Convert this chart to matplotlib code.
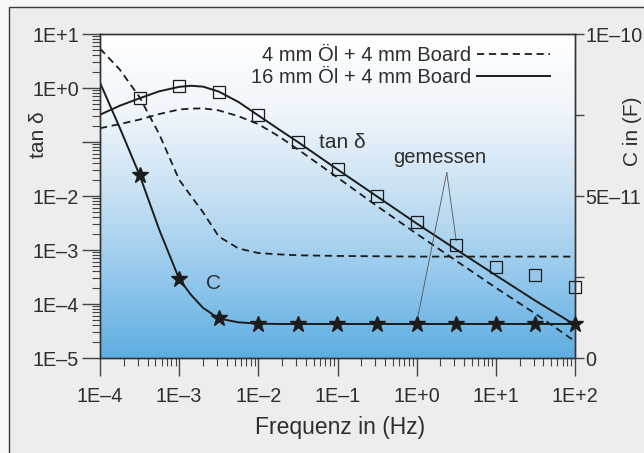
import numpy as np
import matplotlib
matplotlib.use('Agg')
import matplotlib.pyplot as plt
from matplotlib.patches import Rectangle
from matplotlib.colors import LinearSegmentedColormap
from matplotlib.ticker import FixedLocator, FixedFormatter, LogLocator, NullFormatter

plt.rcParams['font.family'] = ['Liberation Sans', 'DejaVu Sans']

# ---------------- data ----------------
# measured points (every half decade)
meas_f = [3.16e-4, 1e-3, 3.16e-3, 1e-2, 3.16e-2, 1e-1, 3.16e-1, 1, 3.16, 10, 31.6, 100]
meas_tan = [0.64, 1.09, 0.85, 0.31, 0.10, 0.031, 0.0098, 3.3e-3, 1.23e-3, 4.9e-4, 3.5e-4, 2.1e-4]
meas_C = [5.65e-11, 2.44e-11, 1.22e-11, 1.05e-11, 1.05e-11, 1.05e-11, 1.05e-11,
          1.05e-11, 1.05e-11, 1.05e-11, 1.05e-11, 1.05e-11]

# calculated curves
curve_f = [1e-4, 1.78e-4, 3.16e-4, 5.62e-4, 1e-3, 1.41e-3, 2.0e-3, 3.16e-3, 5.62e-3,
           1e-2, 1.78e-2, 3.16e-2, 1e-1, 3.16e-1, 1, 3.16, 10, 31.6, 100]
tan_16 = [0.32, 0.47, 0.645, 0.87, 1.05, 1.10, 1.06, 0.86, 0.55,
          0.31, 0.175, 0.10, 0.031, 0.0098, 3.1e-3, 1.02e-3, 3.4e-4, 1.15e-4, 4.1e-5]
tan_4 = [0.18, 0.215, 0.26, 0.33, 0.40, 0.415, 0.42, 0.385, 0.30,
         0.214, 0.13, 0.073, 0.022, 6.5e-3, 2.0e-3, 6.3e-4, 2.0e-4, 6.6e-5, 2.04e-5]
C_16 = [8.5e-11, 7.1e-11, 5.65e-11, 3.95e-11, 2.44e-11, 1.95e-11, 1.55e-11, 1.22e-11, 1.10e-11,
        1.06e-11, 1.05e-11, 1.05e-11, 1.05e-11, 1.05e-11, 1.05e-11, 1.05e-11, 1.05e-11, 1.05e-11, 1.05e-11]
C_4 = [9.55e-11, 8.9e-11, 8.05e-11, 6.9e-11, 5.5e-11, 5.0e-11, 4.5e-11, 3.75e-11, 3.38e-11,
       3.24e-11, 3.2e-11, 3.17e-11, 3.15e-11, 3.14e-11, 3.13e-11, 3.13e-11, 3.13e-11, 3.13e-11, 3.13e-11]

legend_labels = ['4 mm Öl + 4 mm Board', '16 mm Öl + 4 mm Board']

x_ticks = [1e-4, 1e-3, 1e-2, 1e-1, 1e0, 1e1, 1e2]
x_ticklabels = ['1E\u20134', '1E\u20133', '1E\u20132', '1E\u20131', '1E+0', '1E+1', '1E+2']
y_ticks = [1e-5, 1e-4, 1e-3, 1e-2, 1e-1, 1e0, 1e1]
y_ticklabels = ['1E\u20135', '1E\u20134', '1E\u20133', '1E\u20132', '', '1E+0', '1E+1']
c_ticks = [0, 2.5e-11, 5e-11, 7.5e-11, 1e-10]
c_ticklabels = ['0', '', '5E\u201311', '', '1E\u201310']

# ---------------- figure ----------------
W, H = 644, 453
fig = plt.figure(figsize=(W / 100, H / 100), dpi=100, facecolor='#f6f7f7')
fig.patches.append(Rectangle((9 / W, -0.1), 1.2, 1 - 7 / H + 0.1, transform=fig.transFigure,
                             facecolor='#eceeee', edgecolor='#3a3a3a', lw=1.0, zorder=-10))

pos = [100 / W, 1 - 358 / H, 475 / W, 324 / H]
bg = fig.add_axes(pos, zorder=-1)
cmap = LinearSegmentedColormap.from_list('bgc', [(0.0, '#ffffff'), (0.25, '#eef5fb'),
                                                  (0.5, '#c6e0f3'), (0.75, '#94c8ec'),
                                                  (1.0, '#5eaee2')])
bg.imshow(np.linspace(0, 1, 256).reshape(-1, 1), cmap=cmap, aspect='auto', extent=[0, 1, 0, 1])
bg.set_axis_off()

ax = fig.add_axes(pos, zorder=1)
ax.patch.set_visible(False)
ax.set_xscale('log')
ax.set_yscale('log')
ax.set_xlim(1e-4, 1e2)
ax.set_ylim(1e-5, 1e1)

ink = '#1c1c1c'
txt = '#2e2e2e'
l4, = ax.plot(curve_f, tan_4, color=ink, lw=1.3, dashes=(4.0, 2.6))
l16, = ax.plot(curve_f, tan_16, color=ink, lw=1.4)
ax.plot(meas_f, meas_tan, ls='none', marker='s', ms=9.3, mfc='none', mec=ink, mew=0.9, clip_on=False, zorder=4)

ax2 = ax.twinx()
ax2.set_ylim(0, 1e-10)
ax2.plot(curve_f, C_4, color=ink, lw=1.3, dashes=(4.0, 2.6))
ax2.plot(curve_f, C_16, color=ink, lw=1.4)
ax2.plot(meas_f, meas_C, ls='none', marker='*', ms=12, color=ink, clip_on=False, zorder=4)

# ticks
ax.xaxis.set_major_locator(FixedLocator(x_ticks))
ax.xaxis.set_major_formatter(FixedFormatter(x_ticklabels))
ax.yaxis.set_major_locator(FixedLocator(y_ticks))
ax.yaxis.set_major_formatter(FixedFormatter(y_ticklabels))
for a in (ax.xaxis, ax.yaxis):
    a.set_minor_locator(LogLocator(base=10, subs=np.arange(2, 10), numticks=20))
    a.set_minor_formatter(NullFormatter())
ax.tick_params(axis='both', which='major', direction='out', length=13, width=1.0,
               color='#444444', labelcolor=txt, labelsize=14.2)
ax.tick_params(axis='x', which='major', pad=8)
ax.tick_params(axis='y', which='major', pad=2)
ax.tick_params(axis='both', which='minor', direction='out', length=5.5, width=0.8, color='#444444')

ax2.yaxis.set_major_locator(FixedLocator(c_ticks))
ax2.yaxis.set_major_formatter(FixedFormatter(c_ticklabels))
ax2.tick_params(axis='y', direction='out', length=6.5, width=1.0, pad=1,
                color='#444444', labelcolor=txt, labelsize=14.2)

for a in (ax, ax2):
    for s in a.spines.values():
        s.set_color('#333333')
        s.set_linewidth(1.0)

# labels
ax.text(-0.1305, 0.688, 'tan \u03b4', transform=ax.transAxes, rotation=90,
        ha='center', va='center', fontsize=15, color=txt)
ax.text(1.12, 0.70, 'C in (F)', transform=ax.transAxes, rotation=90,
        ha='center', va='center', fontsize=15, color=txt)
ax.text(0.505, -0.213, 'Frequenz in (Hz)', transform=ax.transAxes,
        ha='center', va='center', fontsize=16.5, color=txt)

# annotations
ax.text(5.8e-2, 0.1, 'tan \u03b4', ha='left', va='center', fontsize=15, color=txt)
ax2.text(2.75e-3, 2.31e-11, 'C', ha='center', va='center', fontsize=15, color=txt)
ax.text(1.93, 0.052, 'gemessen', ha='center', va='center', fontsize=14.5, color=txt)
ax.plot([2.4, 1.0], [0.0272, 4.5e-5], color='#555555', lw=0.6)
ax.plot([2.4, 3.16], [0.0272, 1.47e-3], color='#555555', lw=0.6)

ax.legend(handles=[l4, l16], labels=legend_labels, loc='upper right',
          bbox_to_anchor=(0.947, 0.962), markerfirst=False, frameon=False,
          handlelength=3.6, handletextpad=0.3, borderpad=0, borderaxespad=0,
          labelspacing=0.15, fontsize=14.5, labelcolor=txt)

fig.savefig('out.png', dpi=100, facecolor=fig.get_facecolor())
